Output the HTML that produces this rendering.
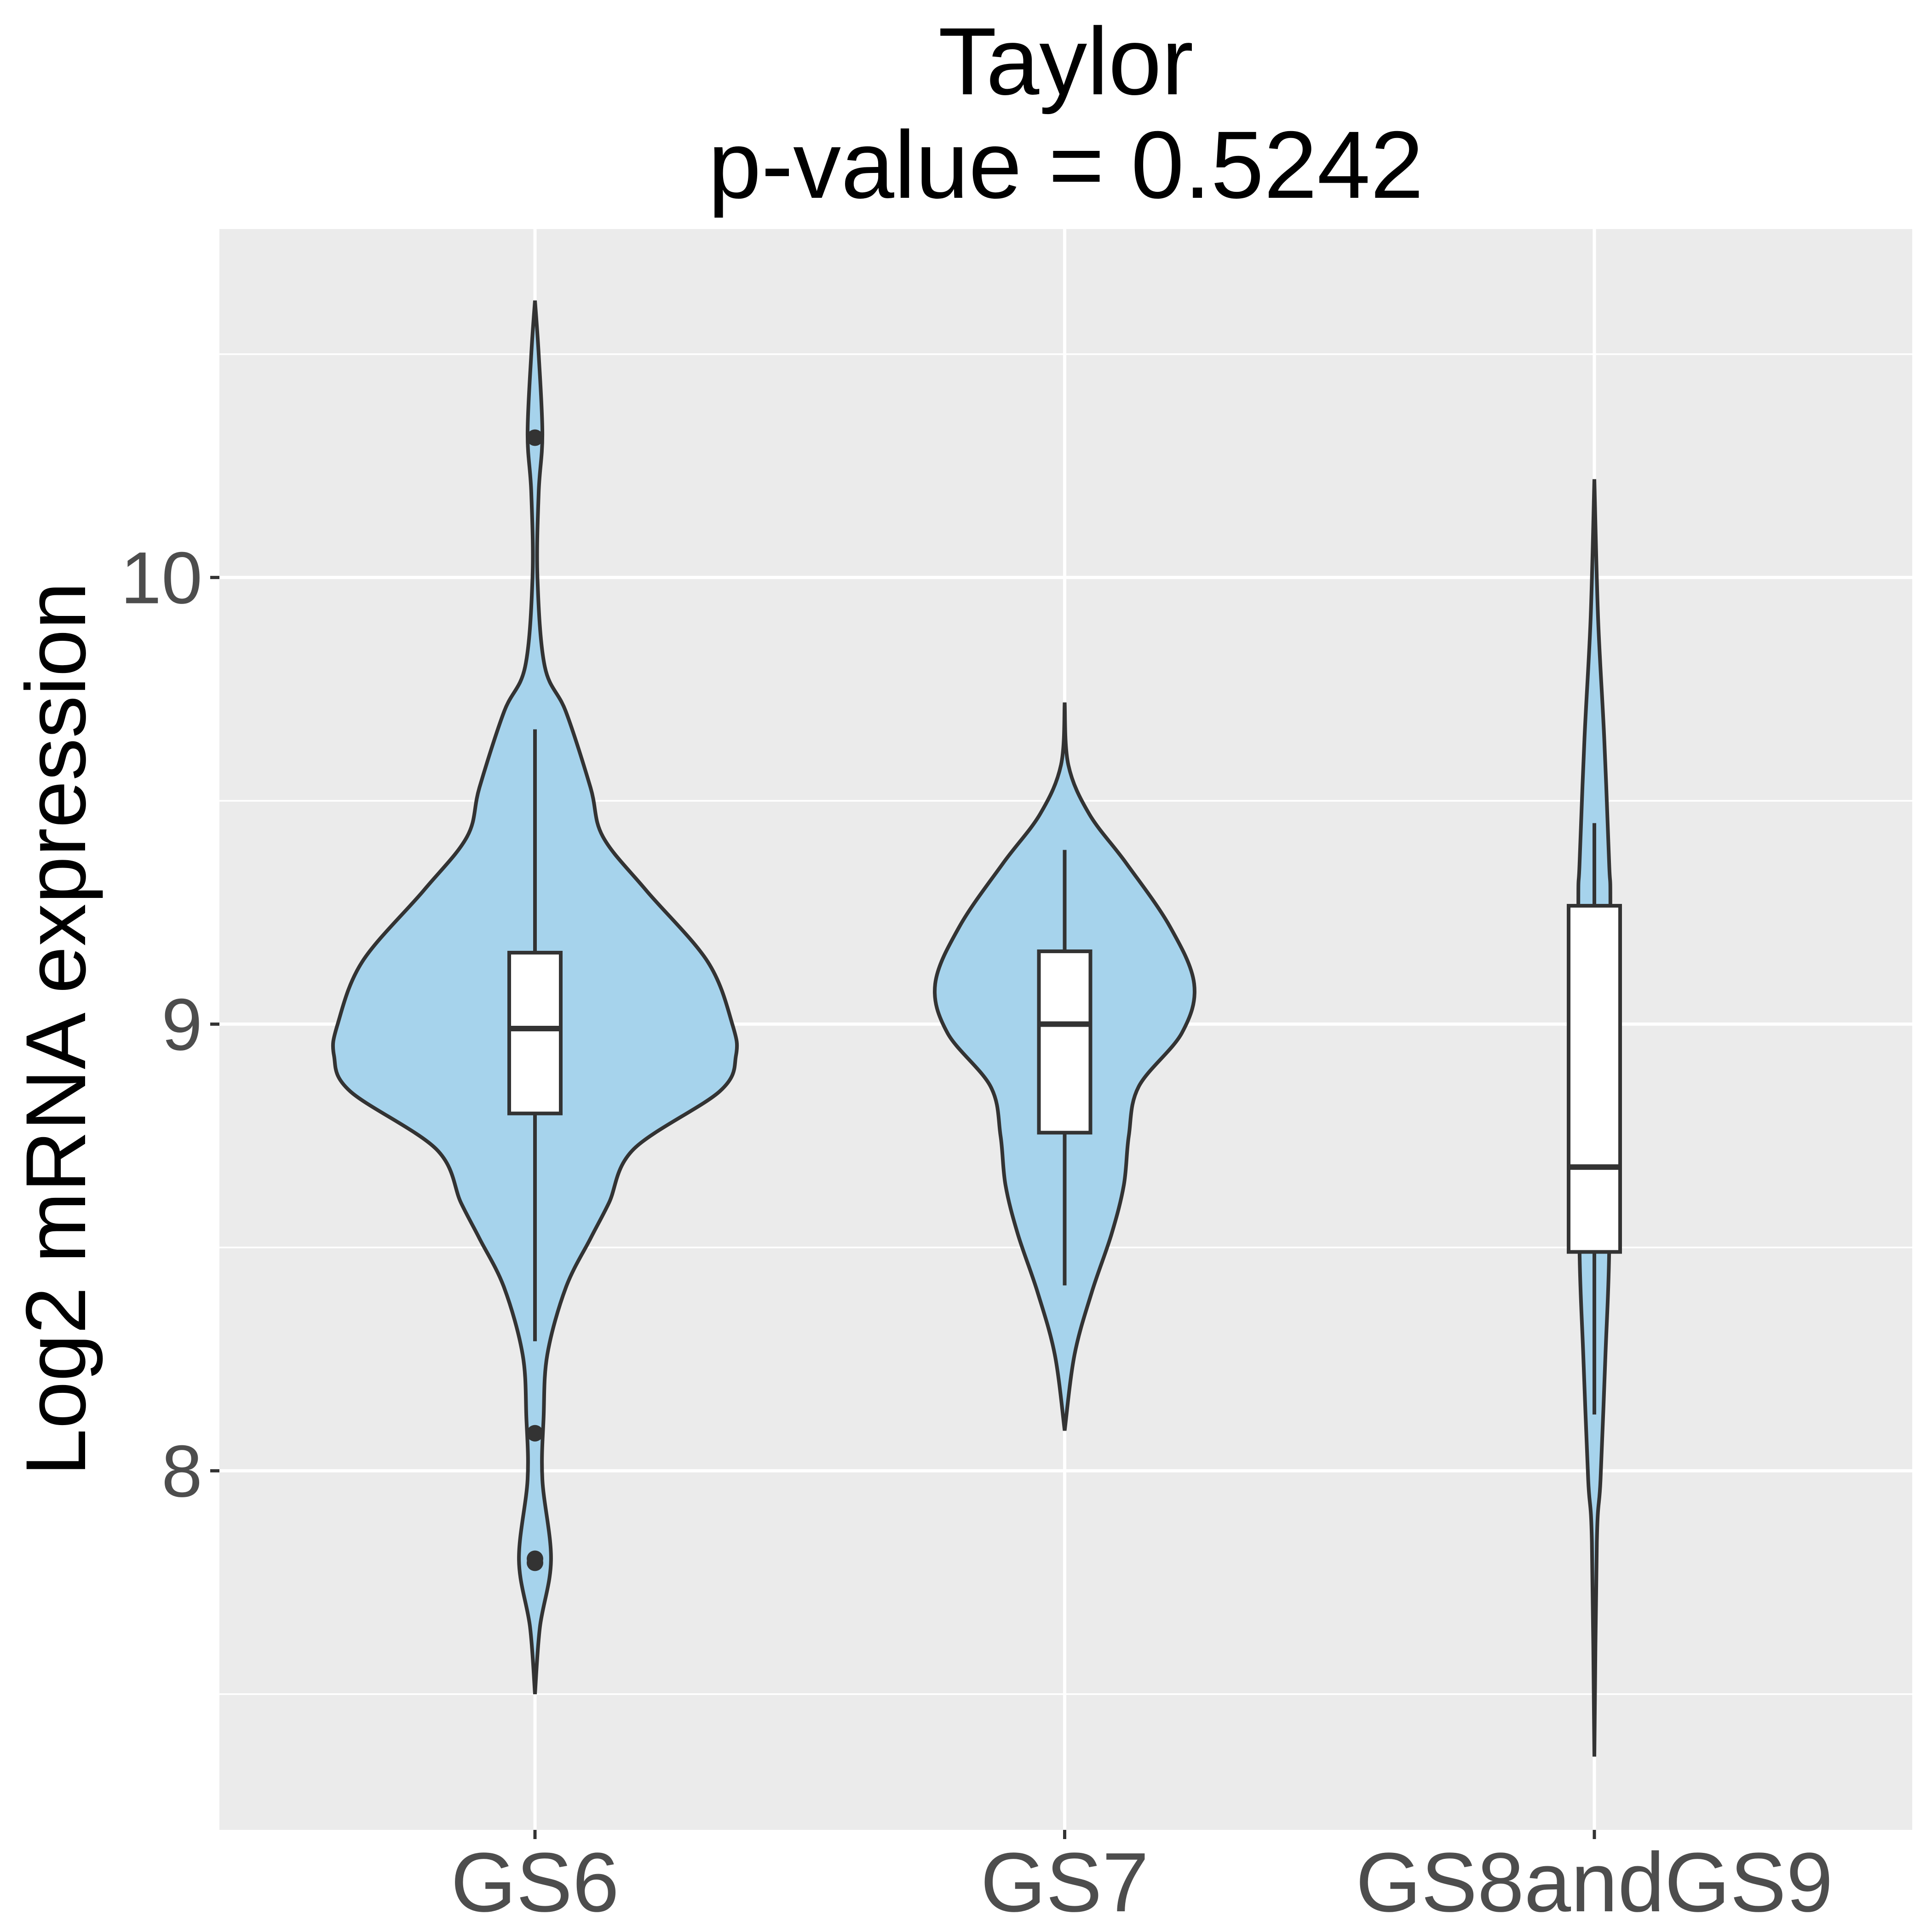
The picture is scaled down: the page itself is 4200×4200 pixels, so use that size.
<!DOCTYPE html>
<html><head><meta charset="utf-8"><style>
html,body{margin:0;padding:0;background:#fff;}
svg{display:block;}
text{font-family:"Liberation Sans",sans-serif;}
</style></head><body>
<svg id="chart" width="4200" height="4200" viewBox="0 0 4200 4200" xmlns="http://www.w3.org/2000/svg">
<rect x="477" y="498" width="3680" height="3480" fill="#ebebeb"/>
<g id="grid"></g>
<g id="marks"></g>
<g id="axes"></g>
<text x="2317" y="205" text-anchor="middle" font-size="208" fill="#000">Taylor</text>
<text x="2317" y="430" text-anchor="middle" font-size="208" fill="#000">p-value = 0.5242</text>
<text transform="translate(185,2237) rotate(-90)" text-anchor="middle" font-size="185" fill="#000">Log2 mRNA expression</text>
</svg>
<script>
const categories = ["GS6","GS7","GS8andGS9"];
const yTicks = [8,9,10];
const yMinor = [7.5,8.5,9.5,10.5];
// violin density profiles: [value, relative half-width]
const densGS6 = [[10.62,0],[10.5,3],[10.32,6],[10.19,3],[10.0,2],[9.8,8],[9.7,25],[9.53,45],[9.42,55],[9.3,90],[9.14,140],[9.0,160],[8.93,163],[8.85,150],[8.72,80],[8.6,60],[8.52,45],[8.41,25],[8.26,10],[8.12,7],[7.98,6],[7.8,13],[7.65,4],[7.5,0]];
const densGS7 = [[9.72,0],[9.58,3],[9.47,20],[9.36,50],[9.22,85],[9.09,105],[8.98,95],[8.86,60],[8.75,52],[8.64,48],[8.53,38],[8.4,22],[8.26,8],[8.09,0]];
const densGS8 = [[10.22,0],[9.91,3],[9.64,8],[9.36,12],[9.26,13],[8.81,12],[8.49,12],[8.26,9],[7.98,5],[7.84,2],[7.36,0]];
const q1 = [8.80,8.757,8.49];
const medians = [8.99,9.0,8.68];
const q3 = [9.16,9.163,9.265];
const whiskLo = [8.29,8.415,8.126];
const whiskHi = [9.66,9.39,9.45];
const outliersGS6 = [10.313,8.084,7.803,7.794];

const NS="http://www.w3.org/2000/svg";
const yDomain=[7.196,10.78], yRange=[3978,498];
function y(v){return yRange[0]+(v-yDomain[0])/(yDomain[1]-yDomain[0])*(yRange[1]-yRange[0]);}
function x(i){return 1163+i*1151.5;}
const wScale = 437/163;
function mk(tag,attrs,parent){const e=document.createElementNS(NS,tag);for(const k in attrs)e.setAttribute(k,attrs[k]);parent.appendChild(e);return e;}
const grid=document.getElementById('grid'), marks=document.getElementById('marks'), axes=document.getElementById('axes');
yMinor.forEach(v=>{const l=mk('line',{x1:477,x2:4157,y1:y(v),y2:y(v),stroke:'#fff','stroke-width':3.5},grid);

});
yTicks.forEach(v=>{const l=mk('line',{x1:477,x2:4157,y1:y(v),y2:y(v),stroke:'#fff','stroke-width':7},grid);


const t=mk('line',{x1:457,x2:477,y1:y(v),y2:y(v),stroke:'#333','stroke-width':7},axes);


const tx=mk('text',{x:440,y:y(v)+56,'text-anchor':'end','font-size':160,fill:'#4d4d4d'},axes);
tx.textContent=v;

});
categories.forEach((c,i)=>{const l=mk('line',{x1:x(i),x2:x(i),y1:498,y2:3978,stroke:'#fff','stroke-width':7},grid);


const t=mk('line',{x1:x(i),x2:x(i),y1:3978,y2:3998,stroke:'#333','stroke-width':7},axes);


const tx=mk('text',{x:x(i),y:4155,'text-anchor':'middle','font-size':183,fill:'#4d4d4d'},axes);
tx.textContent=c;

});

function smooth(pts){let d='M'+pts[0][0]+','+pts[0][1];
for(let i=0;i<pts.length-1;i++){const p0=pts[Math.max(i-1,0)],p1=pts[i],p2=pts[i+1],p3=pts[Math.min(i+2,pts.length-1)];
const c1=[p1[0]+(p2[0]-p0[0])/6,p1[1]+(p2[1]-p0[1])/6],c2=[p2[0]-(p3[0]-p1[0])/6,p2[1]-(p3[1]-p1[1])/6];
d+=' C'+c1[0]+','+c1[1]+' '+c2[0]+','+c2[1]+' '+p2[0]+','+p2[1];}return d;}
[densGS6,densGS7,densGS8].forEach((dens,i)=>{
const right=dens.map(p=>[x(i)+p[1]*wScale,y(p[0])]);
const left=dens.slice().reverse().map(p=>[x(i)-p[1]*wScale,y(p[0])]);
const d=smooth(right)+' L'+smooth(left).slice(1)+' Z';
const v=mk('path',{d:d,fill:'#a6d3ec',stroke:'#333','stroke-width':8},marks);


const bw=56;
const w=mk('line',{x1:x(i),x2:x(i),y1:y(whiskHi[i]),y2:y(whiskLo[i]),stroke:'#333','stroke-width':8},marks);


const b=mk('rect',{x:x(i)-bw,y:y(q3[i]),width:bw*2,height:y(q1[i])-y(q3[i]),fill:'#fff',stroke:'#333','stroke-width':8},marks);


const m=mk('line',{x1:x(i)-bw,x2:x(i)+bw,y1:y(medians[i]),y2:y(medians[i]),stroke:'#333','stroke-width':12},marks);


});
outliersGS6.forEach(v=>{const c=mk('circle',{cx:x(0),cy:y(v),r:18,fill:'#333'},marks);

});
</script>
</body></html>
